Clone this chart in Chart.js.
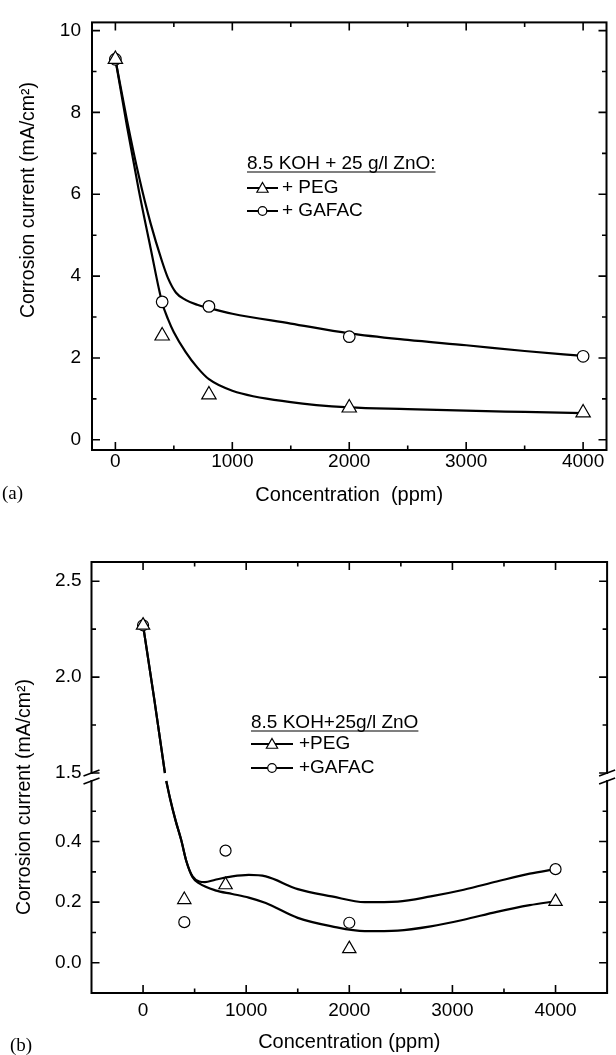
<!DOCTYPE html>
<html>
<head>
<meta charset="utf-8">
<script src="https://cdn.jsdelivr.net/npm/chart.js@4.4.1/dist/chart.umd.min.js"></script>
<style>
  html, body { margin: 0; padding: 0; background: #fff; }
  #wrap { position: relative; width: 616px; height: 1055px; }
  canvas { position: absolute; left: 0; }
  #chartA { top: 0; }
  #chartB { top: 520px; }
</style>
</head>
<body>
<div id="wrap">
  <canvas id="chartA" width="616" height="520"></canvas>
  <canvas id="chartB" width="616" height="535"></canvas>
</div>
<script>
// ---- (a) 8.5 KOH + 25 g/l ZnO ----
const seriesA = ["+ PEG", "+ GAFAC"];
const concA = [0, 400, 800, 2000, 4000];
const pegA = [9.3, 2.54, 1.10, 0.78, 0.66];
const gafacA = [9.3, 3.37, 3.26, 2.52, 2.04];

// fitted curves
const pegFitXA = [0, 100, 200, 300, 400, 450, 500, 600, 700, 800, 1000, 1500, 2000, 2500, 3000, 3500, 4000];
const pegFitA = [9.3, 7.65, 6.1, 4.7, 3.35, 2.95, 2.63, 2.15, 1.77, 1.48, 1.2, 0.92, 0.79, 0.75, 0.71, 0.68, 0.65];
const gafacFitXA = [0, 100, 200, 300, 400, 450, 517, 600, 700, 800, 1000, 1500, 2000, 2500, 3000, 3500, 4000];
const gafacFitA = [9.3, 7.8, 6.45, 5.3, 4.35, 3.95, 3.6, 3.42, 3.3, 3.22, 3.08, 2.84, 2.6, 2.44, 2.31, 2.17, 2.05];

const xTicksA = [0, 1000, 2000, 3000, 4000];
const xMinorA = [500, 1500, 2500, 3500];
const yTicksA = [0, 2, 4, 6, 8, 10];
const yMinorA = [1, 3, 5, 7, 9];

// ---- (b) 8.5 KOH+25g/l ZnO ----
const seriesB = ["+PEG", "+GAFAC"];
const concB = [0, 400, 800, 2000, 4000];
const pegB = [2.27, 0.208, 0.257, 0.046, 0.202];
const gafacB = [2.27, 0.134, 0.37, 0.132, 0.309];

// fitted curves (null = where the curve crosses the axis break)
const pegFitXB = [0, 110, 212, 218, 225, 260, 315, 370, 420, 480, 545, 700, 865, 1025, 1190, 1500, 1830, 2150, 2470, 2790, 3110, 3430, 3750, 4000];
const pegFitB = [2.27, 1.88, 1.5, null, 0.6, 0.545, 0.47, 0.405, 0.335, 0.282, 0.262, 0.239, 0.227, 0.215, 0.197, 0.148, 0.12, 0.104, 0.106, 0.12, 0.142, 0.168, 0.19, 0.203];
const gafacFitXB = [0, 110, 212, 218, 225, 260, 315, 370, 420, 480, 545, 600, 700, 865, 1025, 1190, 1500, 1830, 2150, 2470, 2790, 3110, 3430, 3750, 4000];
const gafacFitB = [2.27, 1.88, 1.5, null, 0.6, 0.545, 0.47, 0.405, 0.335, 0.285, 0.268, 0.266, 0.274, 0.285, 0.29, 0.285, 0.243, 0.219, 0.2, 0.202, 0.219, 0.241, 0.268, 0.294, 0.309];

const xTicksB = [0, 1000, 2000, 3000, 4000];
const xMinorB = [500, 1500, 2500, 3500];
const yTicksB = [0, 0.2, 0.4, 1.5, 2.0, 2.5];
const yMinorB = [0.1, 0.3, 0.5, 1.75, 2.25];
const lowRange = [-0.1, 0.6];
const highRange = [1.5, 2.6];

const SANS = '"Liberation Sans", Arial, Helvetica, sans-serif';
const SERIF = '"Liberation Serif", "Times New Roman", serif';

const pts = (xs, ys) => xs.map((x, i) => ({ x, y: ys[i] }));

// y axis with a break between lowRange and highRange
const LOW_SHARE = 212 / 431, GAP_SHARE = 8 / 431;
class BrokenScale extends Chart.LinearScale {
  static id = "broken";
  static defaults = Chart.LinearScale.defaults;
  _parts() {
    const h = this.bottom - this.top;
    const low = h * LOW_SHARE, gap = h * GAP_SHARE;
    return { low, gap, high: h - low - gap };
  }
  getPixelForValue(v) {
    const p = this._parts();
    if (v <= lowRange[1]) return this.bottom - (v - lowRange[0]) / (lowRange[1] - lowRange[0]) * p.low;
    if (v >= highRange[0]) return this.top + (highRange[1] - v) / (highRange[1] - highRange[0]) * p.high;
    return this.bottom - p.low - (v - lowRange[1]) / (highRange[0] - lowRange[1]) * p.gap;
  }
  getValueForPixel(px) {
    const p = this._parts();
    const d = this.bottom - px;
    if (d <= p.low) return lowRange[0] + d / p.low * (lowRange[1] - lowRange[0]);
    if (d >= p.low + p.gap) return highRange[1] - (px - this.top) / p.high * (highRange[1] - highRange[0]);
    return lowRange[1] + (d - p.low) / p.gap * (highRange[0] - lowRange[1]);
  }
}
Chart.register(BrokenScale);

// frame, inward ticks, y title, key, panel tag
const decor = {
  id: "decor",
  afterDraw(chart, args, o) {
    const { ctx, chartArea: a, scales: { x, y } } = chart;
    ctx.save();
    ctx.strokeStyle = "#000";
    ctx.fillStyle = "#000";

    ctx.lineWidth = 1.6;
    const xt = (vals, len) => vals.forEach(v => {
      const px = x.getPixelForValue(v);
      ctx.beginPath();
      ctx.moveTo(px, a.bottom); ctx.lineTo(px, a.bottom - len);
      ctx.moveTo(px, a.top); ctx.lineTo(px, a.top + len);
      ctx.stroke();
    });
    const yt = (vals, len) => vals.forEach(v => {
      const py = y.getPixelForValue(v);
      ctx.beginPath();
      ctx.moveTo(a.left, py); ctx.lineTo(a.left + len, py);
      ctx.moveTo(a.right, py); ctx.lineTo(a.right - len, py);
      ctx.stroke();
    });
    xt(o.xMajor, 8); xt(o.xMinor, 4.5);
    yt(o.yMajor, 8); yt(o.yMinor, 4.5);

    ctx.lineWidth = 2;
    ctx.strokeRect(a.left, a.top, a.right - a.left, a.bottom - a.top);

    if (o.broken) {
      const yUp = y.getPixelForValue(highRange[0]);
      const yLow = y.getPixelForValue(lowRange[1]);
      [a.left, a.right].forEach(ax => {
        ctx.fillStyle = "#fff";
        ctx.fillRect(ax - 2, yUp + 1, 4, yLow - yUp - 2);
        ctx.lineWidth = 1.6;
        ctx.beginPath();
        ctx.moveTo(ax - 8, yUp + 3); ctx.lineTo(ax + 8, yUp - 3);
        ctx.moveTo(ax - 8, yLow + 3); ctx.lineTo(ax + 8, yLow - 3);
        ctx.stroke();
      });
      ctx.fillStyle = "#000";
    }

    // y title
    ctx.font = "19.5px " + SANS;
    ctx.textAlign = "center";
    ctx.textBaseline = "middle";
    ctx.save();
    ctx.translate(o.yTitleX, o.yTitleY);
    ctx.rotate(-Math.PI / 2);
    ctx.fillText("Corrosion current (mA/cm\u00B2)", 0, 0);
    ctx.restore();

    // panel tag
    ctx.font = "19px " + SERIF;
    ctx.textAlign = "left";
    ctx.fillText(o.tag, o.tagX, o.tagY);

    // key
    const k = o.key;
    ctx.font = "19px " + SANS;
    ctx.textBaseline = "alphabetic";
    ctx.fillText(k.title, k.x, k.titleY);
    const w = ctx.measureText(k.title).width;
    ctx.lineWidth = 1.2;
    ctx.beginPath();
    ctx.moveTo(k.x, k.lineY); ctx.lineTo(k.x + w, k.lineY);
    ctx.stroke();
    ctx.textBaseline = "middle";
    chart.data.datasets.filter(d => !d.showLine && d.pointStyle).forEach((d, i) => {
      const ry = k.rowY[i];
      ctx.lineWidth = 2;
      ctx.strokeStyle = "#000";
      ctx.beginPath();
      ctx.moveTo(k.x, ry); ctx.lineTo(k.x + k.lineW, ry);
      ctx.stroke();
      ctx.fillStyle = "#fff";
      ctx.lineWidth = 1.2;
      Chart.helpers.drawPoint(ctx, {
        pointStyle: d.pointStyle,
        radius: d.pointStyle === "triangle" ? 6.5 : 4.3,
        borderWidth: 1.2,
        rotation: 0
      }, k.x + k.lineW / 2, d.pointStyle === "triangle" ? ry + 1 : ry);
      ctx.fillStyle = "#000";
      ctx.fillText(d.label, k.x + k.lineW + k.gap, ry);
    });
    ctx.restore();
  }
};

function markerSet(label, xs, ys, style, r) {
  return {
    label,
    data: pts(xs, ys),
    showLine: false,
    pointStyle: style,
    pointRadius: r,
    pointBorderWidth: 1.2,
    pointBackgroundColor: "#fff",
    pointBorderColor: "#000",
    order: 0
  };
}
function fitSet(xs, ys) {
  return {
    data: pts(xs, ys),
    showLine: true,
    borderColor: "#000",
    borderWidth: 2.2,
    pointRadius: 0,
    cubicInterpolationMode: "monotone",
    spanGaps: false,
    fill: false,
    order: 1
  };
}

const tickFont = { family: SANS, size: 19 };

function makeChart(id, cfg) {
  return new Chart(document.getElementById(id), {
    type: "line",
    data: { datasets: cfg.datasets },
    options: {
      responsive: false,
      animation: false,
      devicePixelRatio: 1,
      layout: { padding: cfg.padding },
      scales: {
        x: {
          type: "linear",
          min: cfg.xRange[0], max: cfg.xRange[1],
          afterFit: s => { s.height = cfg.xHeight; },
          afterBuildTicks: s => { s.ticks = cfg.xMajor.map(v => ({ value: v })); },
          grid: { display: false, drawTicks: false },
          border: { display: false },
          ticks: { color: "#000", font: tickFont, padding: cfg.xPad, maxRotation: 0, autoSkip: false, callback: v => String(v) },
          title: { display: true, text: cfg.xTitle, color: "#000", font: { family: SANS, size: 20 }, padding: { top: 0, bottom: cfg.xTitlePad } }
        },
        y: {
          type: cfg.yType,
          min: cfg.yRange[0], max: cfg.yRange[1],
          afterFit: s => { s.width = cfg.yWidth; },
          afterBuildTicks: s => { s.ticks = cfg.yMajor.map(v => ({ value: v })); },
          grid: { display: false, drawTicks: false },
          border: { display: false },
          ticks: { color: "#000", font: tickFont, padding: cfg.yPad, autoSkip: false, callback: cfg.yFmt }
        }
      },
      plugins: {
        legend: { display: false },
        tooltip: { enabled: false },
        decor: cfg.decor
      }
    },
    plugins: [decor]
  });
}

makeChart("chartA", {
  datasets: [
    markerSet(seriesA[0], concA, pegA, "triangle", 8.3),
    markerSet(seriesA[1], concA, gafacA, "circle", 5.8),
    fitSet(pegFitXA, pegFitA),
    fitSet(gafacFitXA, gafacFitA)
  ],
  padding: { left: 0, right: 4, top: 15, bottom: 0 },
  xRange: [-200, 4200], yRange: [-0.25, 10.2], yType: "linear",
  xMajor: xTicksA, yMajor: yTicksA,
  xHeight: 70, yWidth: 92, xPad: 0, yPad: 11, xTitlePad: 13,
  xTitle: "Concentration  (ppm)",
  yFmt: v => String(v),
  decor: {
    xMajor: xTicksA, xMinor: xMinorA, yMajor: yTicksA, yMinor: yMinorA,
    yTitleX: 29, yTitleY: 200, tag: "(a)", tagX: 2, tagY: 494,
    key: { title: "8.5 KOH + 25 g/l ZnO:", x: 247, titleY: 169, lineY: 172, rowY: [188, 211], lineW: 31, gap: 4 }
  }
});

makeChart("chartB", {
  datasets: [
    markerSet(seriesB[0], concB, pegB, "triangle", 7.7),
    markerSet(seriesB[1], concB, gafacB, "circle", 5.5),
    fitSet(pegFitXB, pegFitB),
    fitSet(gafacFitXB, gafacFitB)
  ],
  padding: { left: 0, right: 4.5, top: 42, bottom: 0 },
  xRange: [-500, 4500], yRange: [lowRange[0], highRange[1]], yType: "broken",
  xMajor: xTicksB, yMajor: yTicksB,
  xHeight: 62, yWidth: 91.5, xPad: 6, yPad: 10, xTitlePad: 1,
  xTitle: "Concentration (ppm)",
  yFmt: v => Number(v).toFixed(1),
  decor: {
    xMajor: xTicksB, xMinor: xMinorB, yMajor: yTicksB, yMinor: yMinorB, broken: true,
    yTitleX: 25, yTitleY: 277, tag: "(b)", tagX: 10, tagY: 526,
    key: { title: "8.5 KOH+25g/l ZnO", x: 251, titleY: 208, lineY: 211, rowY: [224, 248], lineW: 42, gap: 6 }
  }
});
</script>
</body>
</html>
